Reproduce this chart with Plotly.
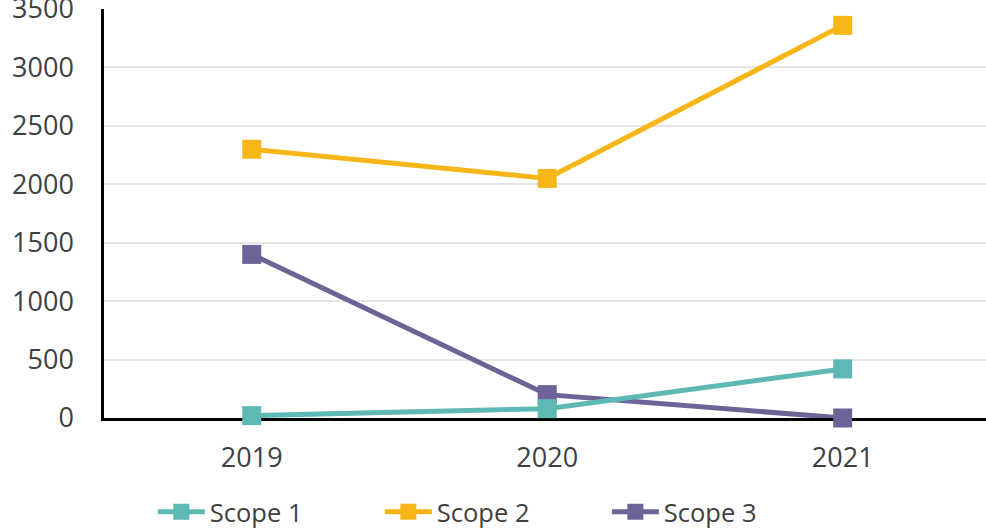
import plotly.graph_objects as go

years = ["2019", "2020", "2021"]
scope1 = [20, 80, 420]
scope2 = [2300, 2050, 3360]
scope3 = [1400, 200, 0]

series = [
    ("Scope 3", scope3, "#6E6396"),
    ("Scope 2", scope2, "#F7B617"),
    ("Scope 1", scope1, "#5EB9B4"),
]

text_color = "#404040"
font_family = "Open Sans, Noto Sans, sans-serif"

fig = go.Figure()
for name, values, color in series:
    fig.add_trace(go.Scatter(
        x=years, y=values, name=name, mode="lines+markers",
        line=dict(color=color, width=5),
        marker=dict(symbol="square", size=19, color=color, line=dict(width=0)),
        cliponaxis=False,
    ))

fig.update_layout(
    width=986, height=528,
    margin=dict(l=104, r=0, t=9, b=110, autoexpand=False),
    paper_bgcolor="white", plot_bgcolor="white",
    font=dict(family=font_family, size=27, color=text_color),
    showlegend=True,
    legend=dict(
        orientation="h", traceorder="reversed",
        xref="container", yref="container",
        x=0.155, xanchor="left", y=0.03, yanchor="middle",
        font=dict(size=25.5, color=text_color),
        entrywidth=165, entrywidthmode="pixels",
        itemwidth=47, bgcolor="rgba(0,0,0,0)",
    ),
    xaxis=dict(
        type="category", range=[-0.5, 2.485], automargin=False,
        showline=True, linecolor="black", linewidth=2.5,
        showgrid=False, zeroline=False,
        ticks="outside", ticklen=14, tickcolor="rgba(0,0,0,0)",
        layer="below traces",
    ),
    yaxis=dict(
        range=[0, 3500], tickvals=[0, 500, 1000, 1500, 2000, 2500, 3000, 3500],
        automargin=False,
        showline=True, linecolor="black", linewidth=2.5,
        showgrid=True, gridcolor="#E5E5E5", gridwidth=2,
        zeroline=False, ticklabeloverflow="allow",
        ticks="outside", ticklen=22, tickcolor="rgba(0,0,0,0)",
        layer="below traces",
    ),
)

fig.write_html("out.html")
